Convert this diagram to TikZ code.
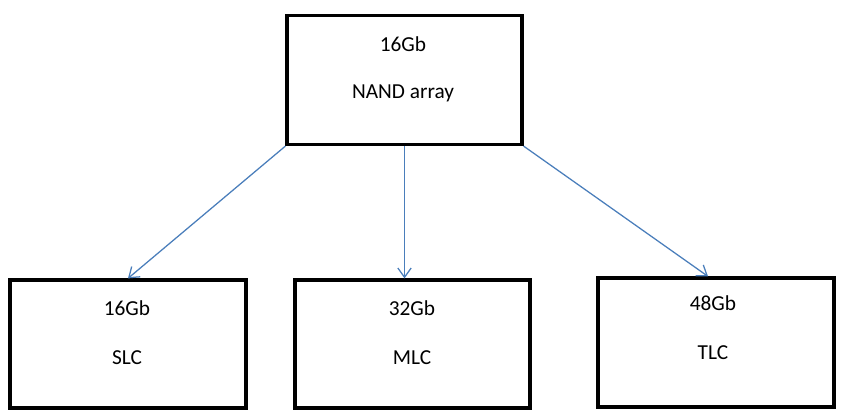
\documentclass[tikz,border=0pt]{standalone}
\usepackage{fontspec}
\setmainfont{Carlito}
\usetikzlibrary{arrows.meta}
\definecolor{arrowblue}{HTML}{4A7EBB}
\begin{document}
\begin{tikzpicture}[x=0.75pt,y=-0.75pt,
  box/.style={draw=black,line width=2.4pt,fill=white,inner sep=0pt},
  lbl/.style={font=\fontsize{16pt}{19pt}\selectfont,inner sep=0pt,anchor=center},
  conn/.style={draw=arrowblue,line width=0.95pt,-{Straight Barb[length=7pt,width=10pt,line width=0.95pt]}}]
\useasboundingbox (0,0) rectangle (844,420);
\node[box,minimum width=235*0.75pt,minimum height=129*0.75pt] (top) at (404.5,80) {};
\node[box,minimum width=236*0.75pt,minimum height=128*0.75pt] (slc) at (128,344) {};
\node[box,minimum width=235*0.75pt,minimum height=128*0.75pt] (mlc) at (412.5,344) {};
\node[box,minimum width=236*0.75pt,minimum height=129*0.75pt] (tlc) at (716,342.5) {};
\node[lbl] (t1) at (403,44) {16Gb};
\node[lbl] (t2) at (403,93) {NAND array};
\node[lbl] (s1) at (127,308) {16Gb};
\node[lbl] (s2) at (127,358) {SLC};
\node[lbl] (m1) at (412,308) {32Gb};
\node[lbl] (m2) at (412,358) {MLC};
\node[lbl] (l1) at (713,303) {48Gb};
\node[lbl] (l2) at (713,353) {TLC};
\draw[conn] (top.south west) -- (slc.north);
\draw[conn] (top.south) -- (top.south |- mlc.north);
\draw[conn] (top.south east) -- ([xshift=-6pt]tlc.north);
\end{tikzpicture}
\end{document}
